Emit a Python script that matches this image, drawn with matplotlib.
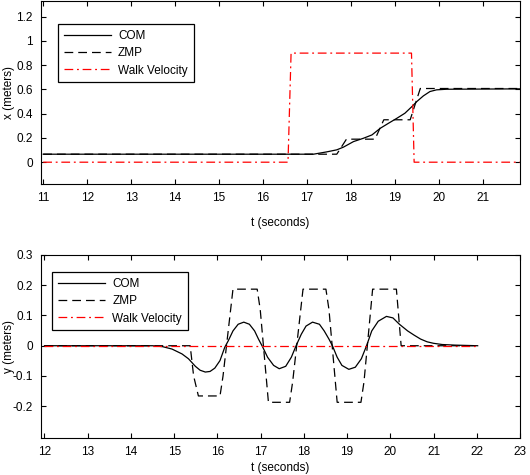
import numpy as np
import matplotlib.pyplot as plt

plt.rcParams['font.family'] = ['Liberation Sans', 'DejaVu Sans']
plt.rcParams['font.size'] = 8.5

# --- panel x (sagital) ---
t_com_x = [11.0, 17.15, 17.45, 17.68, 17.83, 18.06, 18.29, 18.48, 18.67, 18.86,
           19.05, 19.23, 19.39, 19.5, 19.65, 19.8, 19.95, 20.18, 21.85]
com_x = [0.066, 0.066, 0.085, 0.102, 0.124, 0.17, 0.198, 0.225, 0.28, 0.322,
         0.363, 0.404, 0.459, 0.5, 0.547, 0.583, 0.597, 0.602, 0.605]

t_zmp_x = [11.0, 17.68, 17.9, 18.55, 18.75, 19.35, 19.58, 21.85]
zmp_x = [0.066, 0.066, 0.19, 0.19, 0.35, 0.35, 0.608, 0.608]

t_vel_x = [11.0, 16.57, 16.64, 19.38, 19.44, 21.85]
vel_x = [0.0, 0.0, 0.9, 0.9, 0.0, 0.0]

# --- panel y (lateral) ---
t_com_y = [12.0, 14.5, 14.73, 14.95, 15.18, 15.33, 15.49, 15.6, 15.72, 15.83,
           15.94, 16.06, 16.17, 16.25, 16.36, 16.48, 16.61, 16.74, 16.86, 16.95,
           17.05, 17.16, 17.3, 17.43, 17.58, 17.71, 17.82, 17.94, 18.05, 18.2,
           18.36, 18.47, 18.58, 18.66, 18.77, 18.88, 19.04, 19.19, 19.33, 19.45,
           19.57, 19.72, 19.91, 20.06, 20.21, 20.4, 20.55, 20.7, 20.85, 21.0,
           21.2, 21.5, 22.02]
com_y = [0.0, 0.0, -0.003, -0.011, -0.027, -0.043, -0.068, -0.081, -0.087, -0.085,
         -0.074, -0.049, -0.005, 0.016, 0.049, 0.071, 0.078, 0.071, 0.049, 0.022,
         -0.005, -0.038, -0.065, -0.076, -0.068, -0.038, 0.0, 0.038, 0.065, 0.078,
         0.071, 0.049, 0.022, 0.0, -0.038, -0.065, -0.078, -0.071, -0.043, 0.0,
         0.049, 0.081, 0.097, 0.092, 0.071, 0.049, 0.035, 0.022, 0.013, 0.008,
         0.004, 0.002, 0.0]

t_zmp_y = [12.0, 15.37, 15.45, 15.56, 16.06, 16.13, 16.36, 16.92, 16.99, 17.18,
           17.67, 17.74, 17.98, 18.51, 18.58, 18.77, 19.32, 19.39, 19.59, 20.14,
           20.25, 22.02]
zmp_y = [0.0, 0.0, -0.1, -0.166, -0.166, -0.1, 0.187, 0.187, 0.12, -0.187,
         -0.187, -0.12, 0.187, 0.187, 0.12, -0.187, -0.187, -0.12, 0.187, 0.187,
         0.0, 0.0]

t_vel_y = [12.0, 22.02]
vel_y = [0.0, 0.0]

fig = plt.figure(figsize=(5.3, 4.75), dpi=100)
ax1 = fig.add_axes([0.0774, 0.6126, 0.9038, 0.3853])
ax2 = fig.add_axes([0.0774, 0.0779, 0.9038, 0.3853])

def draw_panel(ax, t_com, com, t_zmp, zmp, t_vel, vel):
    ax.plot(t_com, com, color='black', linewidth=0.9, label='COM')
    ax.plot(t_zmp, zmp, color='black', linewidth=0.9, linestyle=(0, (7, 4)), label='ZMP')
    ax.plot(t_vel, vel, color='red', linewidth=0.9, linestyle=(0, (7, 3, 1.5, 3)),
            label='Walk Velocity')
    ax.tick_params(direction='in', top=True, right=True, length=3.5, width=0.8, pad=6)
    for s in ax.spines.values():
        s.set_linewidth(0.8)
    ax.set_xlabel('t (seconds)')
    ax.legend(loc='upper left', borderaxespad=0, fancybox=False, edgecolor='black',
              framealpha=1, handlelength=4, handletextpad=0.6, borderpad=0.5,
              labelspacing=0.45)
    ax.get_legend().get_frame().set_linewidth(0.9)

draw_panel(ax1, t_com_x, com_x, t_zmp_x, zmp_x, t_vel_x, vel_x)
ax1.set_xlim(10.95, 21.85)
ax1.set_ylim(-0.18, 1.33)
ax1.set_xticks(np.arange(11, 22))
ax1.set_yticks(np.arange(0, 1.21, 0.2))
ax1.set_yticklabels(['0', '0.2', '0.4', '0.6', '0.8', '1', '1.2'])
ax1.set_ylabel('x (meters)')
ax1.yaxis.set_label_coords(-0.055, 0.5)
ax1.xaxis.labelpad = 9
ax1.get_legend().set_bbox_to_anchor((0.035, 0.874))

draw_panel(ax2, t_com_y, com_y, t_zmp_y, zmp_y, t_vel_y, vel_y)
ax2.set_xlim(11.92, 23.0)
ax2.set_ylim(-0.305, 0.3)
ax2.set_xticks(np.arange(12, 24))
ax2.set_yticks([-0.2, -0.1, 0, 0.1, 0.2, 0.3])
ax2.set_yticklabels(['-0.2', '-0.1', '0', '0.1', '0.2', '0.3'])
ax2.set_ylabel('y (meters)')
ax2.yaxis.set_label_coords(-0.055, 0.5)
ax2.xaxis.labelpad = 3
ax2.get_legend().set_bbox_to_anchor((0.023, 0.907))

fig.savefig('out.png', dpi=100)
